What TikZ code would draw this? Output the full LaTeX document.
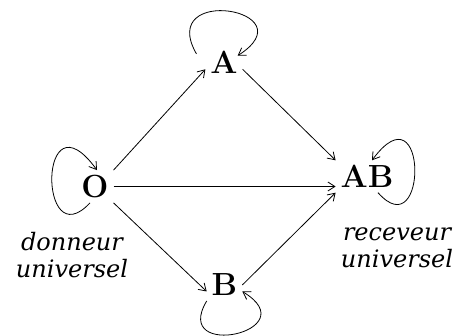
\documentclass[tikz,border=0pt]{standalone}
\usepackage{fontspec}
\newfontfamily\lblfont{DejaVu Serif}
\usetikzlibrary{arrows.meta}

\begin{document}
\begin{tikzpicture}[x=1pt,y=1pt,line width=0.8pt,>={Straight Barb[length=7pt,width=9pt]},grp/.style={font=\bfseries\fontsize{32}{32}\selectfont,inner sep=1pt,outer sep=4pt},lbl/.style={font=\lblfont\itshape\fontsize{24}{27}\selectfont,align=center,inner sep=0pt}]
\useasboundingbox (0,0) rectangle (454,336);
\node[grp] (O) at (95,149.5) {O};
\node[grp] (A) at (224,273.5) {A};
\node[grp] (B) at (224.5,51) {B};
\node[grp] (AB) at (367,159.5) {AB};
% dons
\draw[->] (O.north east) -- (A.200);
\draw[->] (A.-20) -- (AB.north west);
\draw[->] (O.east) -- (O.east -| AB.west);
\draw[->] (O.south east) -- (B.200);
\draw[->] (B.east) -- (AB.south west);
% boucles
\draw[->] ([xshift=-5pt]O.south) .. controls +(-52,-56) and +(-59,81) .. ([xshift=2pt]O.north);
\draw[->] ([xshift=-9pt]A.155) .. controls +(-40,70) and +(72,46) .. ([xshift=-5pt]A.20);
\draw[->] ([xshift=11pt]AB.south) .. controls +(50,-56) and +(56,76) .. ([xshift=5pt]AB.north);
\draw[->] (B.south west) .. controls +(-36,-60) and +(66,-40) .. (B.-20);
\node[lbl] (don) at (72,81) {donneur\\universel};
\node[lbl] (rec) at (397,88) {receveur\\universel};
\end{tikzpicture}
\end{document}
